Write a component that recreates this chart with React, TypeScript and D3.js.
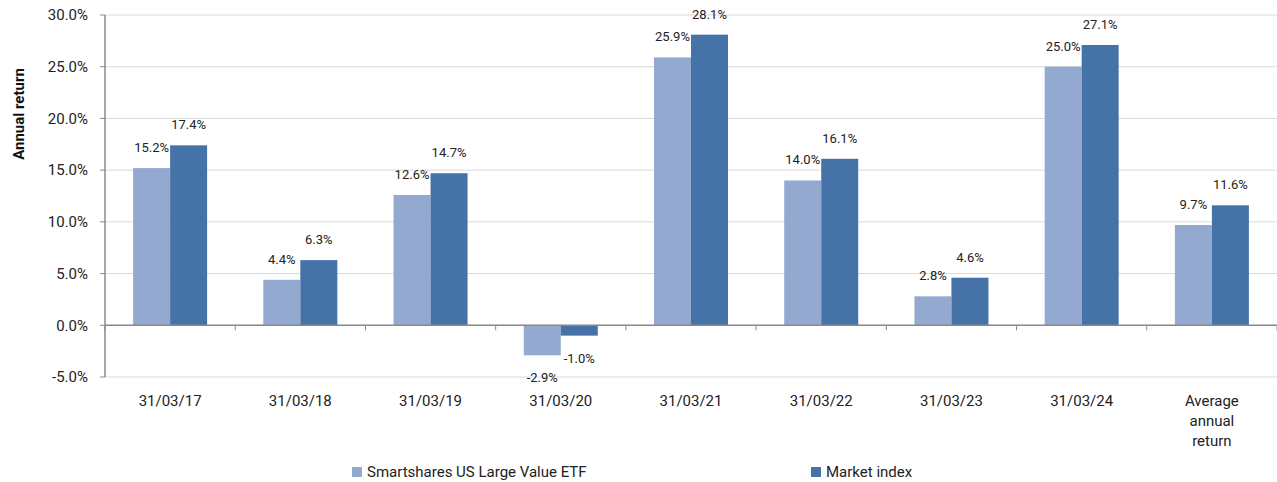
import * as d3 from 'd3';

// Chart data
const categories = ['31/03/17', '31/03/18', '31/03/19', '31/03/20', '31/03/21', '31/03/22', '31/03/23', '31/03/24', 'Average annual return'];
const fundValues = [15.2, 4.4, 12.6, -2.9, 25.9, 14.0, 2.8, 25.0, 9.7];
const indexValues = [17.4, 6.3, 14.7, -1.0, 28.1, 16.1, 4.6, 27.1, 11.6];
const seriesNames = ['Smartshares US Large Value ETF', 'Market index'];
const yTicks = [-5, 0, 5, 10, 15, 20, 25, 30];

const COLORS = ['#94a9d0', '#4572a7'];
const FONT = 'Roboto, "Liberation Sans", Arial, sans-serif';

const WIDTH = 1277;
const HEIGHT = 482;
const margin = { top: 15, right: 0, bottom: 105, left: 105 };

export default function App() {
  const innerWidth = WIDTH - margin.left - margin.right;
  const innerHeight = HEIGHT - margin.top - margin.bottom;

  const x = d3.scaleBand().domain(categories).range([0, innerWidth]);
  const barW = 37;
  const y = d3.scaleLinear().domain([-5, 30]).range([innerHeight, 0]);

  const series = [fundValues, indexValues];
  const fmt = (v: number) => `${v.toFixed(1)}%`;

  const wrap = (label: string) => (label.startsWith('Average') ? ['Average', 'annual', 'return'] : [label]);

  return (
    <svg width={WIDTH} height={HEIGHT} style={{ position: 'absolute', left: 0, top: 0, fontFamily: FONT }}>
      <g transform={`translate(${margin.left},${margin.top})`}>
        {/* grid */}
        {yTicks.map((t) => (
          <line key={t} x1={0} x2={innerWidth} y1={y(t)} y2={y(t)} stroke="#d9d9d9" strokeWidth={1} />
        ))}
        {/* bars */}
        {series.map((vals, si) =>
          vals.map((v, i) => {
            const cx = (x(categories[i]) || 0) + x.bandwidth() / 2;
            const bx = si === 0 ? cx - barW : cx;
            return (
              <rect
                key={`${si}-${i}`}
                x={bx}
                y={y(Math.max(0, v))}
                width={barW}
                height={Math.abs(y(v) - y(0))}
                fill={COLORS[si]}
              />
            );
          })
        )}
        {/* value labels */}
        {series.map((vals, si) =>
          vals.map((v, i) => {
            const cx = (x(categories[i]) || 0) + x.bandwidth() / 2;
            const lx = si === 0 ? cx - barW / 2 : cx + barW / 2;
            const ly = v >= 0 ? y(v) - 16 : y(v) + 27;
            return (
              <text key={`l${si}-${i}`} x={lx} y={ly} textAnchor="middle" fontSize={13} fill="#222">
                {fmt(v)}
              </text>
            );
          })
        )}
        {/* x axis at zero */}
        <line x1={0} x2={innerWidth} y1={y(0)} y2={y(0)} stroke="#898989" strokeWidth={1.5} />
        {d3.range(categories.length + 1).map((k) => {
          const tx = k * x.step();
          return <line key={k} x1={tx} x2={tx} y1={y(0)} y2={y(0) + 5} stroke="#898989" strokeWidth={1} />;
        })}
        {/* y axis */}
        <line x1={0} x2={0} y1={0} y2={innerHeight} stroke="#898989" strokeWidth={1.5} />
        {yTicks.map((t) => (
          <g key={`yt${t}`}>
            <line x1={-5} x2={0} y1={y(t)} y2={y(t)} stroke="#898989" />
            <text x={-17} y={y(t)} dy="0.35em" textAnchor="end" fontSize={15} fill="#222">
              {fmt(t)}
            </text>
          </g>
        ))}
        {/* category labels */}
        {categories.map((c) => {
          const cx = (x(c) || 0) + x.bandwidth() / 2;
          return (
            <text key={c} x={cx} y={innerHeight + 29} textAnchor="middle" fontSize={15} fill="#222">
              {wrap(c).map((line, li) => (
                <tspan key={li} x={cx} dy={li === 0 ? 0 : 20}>
                  {line}
                </tspan>
              ))}
            </text>
          );
        })}
      </g>
      {/* y title */}
      <text
        transform={`translate(24,114) rotate(-90)`}
        textAnchor="middle"
        fontSize={15}
        fontWeight="bold"
        fill="#111"
      >
        Annual return
      </text>
      {/* legend */}
      {seriesNames.map((n, i) => {
        const lx = i === 0 ? 352 : 811;
        return (
          <g key={n} transform={`translate(${lx},467)`}>
            <rect x={0} y={0} width={10} height={10} fill={COLORS[i]} />
            <text x={15} y={10} fontSize={15} fill="#222">
              {n}
            </text>
          </g>
        );
      })}
    </svg>
  );
}
